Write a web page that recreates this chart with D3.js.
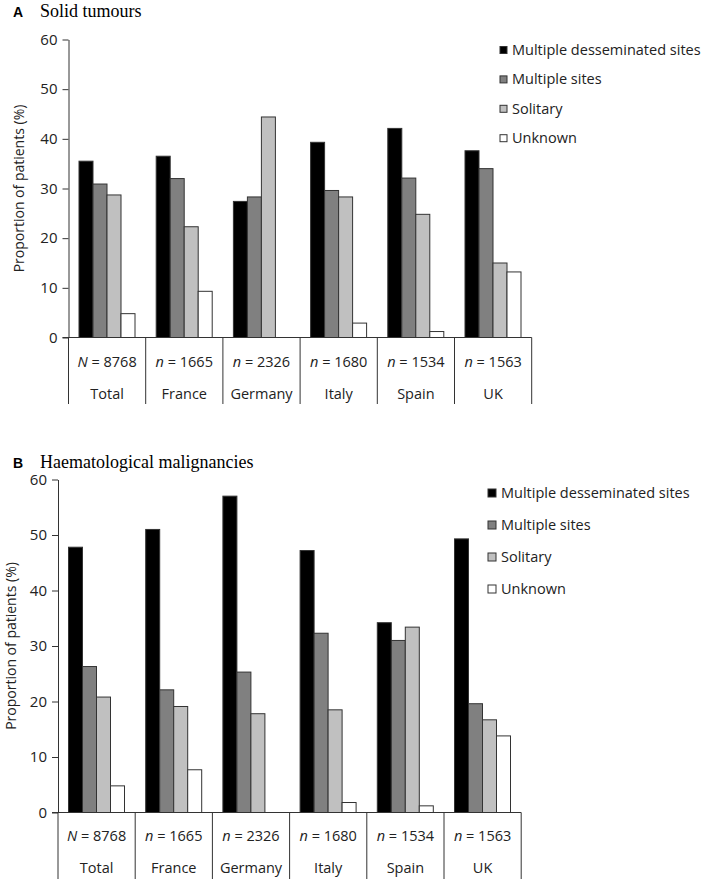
<!DOCTYPE html>
<html><head><meta charset="utf-8">
<script src="https://cdn.jsdelivr.net/npm/d3@7"></script>
<style>body{margin:0;background:#fff}svg{display:block}</style>
</head><body>
<script>
const countries = ["Total","France","Germany","Italy","Spain","UK"];
const sampleSizes = ["N = 8768","n = 1665","n = 2326","n = 1680","n = 1534","n = 1563"];
const seriesNames = ["Multiple desseminated sites","Multiple sites","Solitary","Unknown"];
const seriesColors = ["#000000","#808080","#c0c0c0","#ffffff"];
const yTicks = [0,10,20,30,40,50,60];
// Panel A: Solid tumours
const solidMultDiss = [35.5,36.5,27.4,39.3,42.1,37.6];
const solidMult     = [30.9,32.0,28.3,29.6,32.1,34.0];
const solidSolitary = [28.7,22.3,44.4,28.3,24.8,15.0];
const solidUnknown  = [4.8,9.3,0,2.9,1.2,13.2];
// Panel B: Haematological malignancies
const haemMultDiss = [47.8,51.0,57.0,47.2,34.2,49.3];
const haemMult     = [26.3,22.1,25.3,32.3,31.0,19.6];
const haemSolitary = [20.8,19.1,17.8,18.5,33.4,16.7];
const haemUnknown  = [4.8,7.7,0,1.8,1.2,13.8];

const W = 709, H = 879;
const svg = d3.select("body").append("svg").attr("width",W).attr("height",H);
const FONT = "'Open Sans', sans-serif";

function panel(cfg){
  const g = svg.append("g");
  const series = cfg.values;
  const x = d3.scaleBand().domain(countries).range([cfg.x0, cfg.x0 + 6*77.2]).padding(0);
  const xi = d3.scaleBand().domain(seriesNames).range([10.5, 66.5]).padding(0);
  const y = d3.scaleLinear().domain([0,60]).range([cfg.yBottom, cfg.yTop]);

  g.append("text").attr("x",13).attr("y",cfg.titleY).attr("font-family","'Liberation Sans', Arial, sans-serif")
    .attr("font-weight","bold").attr("font-size",14).text(cfg.letter);
  g.append("text").attr("x",40).attr("y",cfg.titleY).attr("font-family","'Liberation Serif', 'Times New Roman', serif")
    .attr("font-size",18).text(cfg.title);

  countries.forEach((c,ci)=>{
    seriesNames.forEach((s,si)=>{
      const v = series[si][ci];
      if (v <= 0) return;
      g.append("rect")
        .attr("x", x(c) + xi(s)).attr("width", xi.bandwidth())
        .attr("y", y(v)).attr("height", y(0) - y(v))
        .attr("fill", seriesColors[si]).attr("stroke","#333").attr("stroke-width",1);
    });
  });

  const ax = g.append("g").attr("transform",`translate(${cfg.x0},0)`)
    .call(d3.axisLeft(y).tickValues(yTicks).tickSize(6).tickSizeOuter(0).tickPadding(5));
  ax.selectAll("path,line").attr("stroke","#333");
  ax.selectAll("text").attr("font-family",FONT).attr("font-size",15).attr("fill","#222");

  g.append("text").attr("transform",`translate(${cfg.labelX},${(cfg.yTop+cfg.yBottom)/2}) rotate(-90)`)
    .attr("text-anchor","middle").attr("font-family",FONT).attr("font-size",14).attr("fill","#222")
    .text("Proportion of patients (%)");

  const xEnd = cfg.x0 + 6*77.2;
  g.append("line").attr("x1",cfg.x0-6).attr("x2",xEnd).attr("y1",y(0)).attr("y2",y(0)).attr("stroke","#333");
  const borders = countries.map(c=>x(c)).concat([xEnd]);
  borders.forEach(bx=>{
    g.append("line").attr("x1",bx).attr("x2",bx).attr("y1",y(0)).attr("y2",cfg.tableBottom).attr("stroke","#333");
  });
  countries.forEach((c,ci)=>{
    const cx = x(c) + x.bandwidth()/2;
    const parts = sampleSizes[ci].split(" = ");
    const t = g.append("text").attr("x",cx).attr("y",y(0)+cfg.row1).attr("text-anchor","middle")
      .attr("font-family",FONT).attr("font-size",14.5).attr("fill","#222");
    t.append("tspan").attr("font-style","italic").text(parts[0]);
    t.append("tspan").text(" = " + parts[1]);
    g.append("text").attr("x",cx).attr("y",y(0)+cfg.row2).attr("text-anchor","middle")
      .attr("font-family",FONT).attr("font-size",14.5).attr("fill","#222").text(c);
  });

  seriesNames.forEach((s,si)=>{
    const ly = cfg.legY + si*cfg.legStep;
    g.append("rect").attr("x",cfg.legX).attr("y",ly-cfg.sq/2).attr("width",cfg.sq).attr("height",cfg.sq)
      .attr("fill",seriesColors[si]).attr("stroke","#333").attr("stroke-width",1);
    g.append("text").attr("x",cfg.legX+cfg.sq+5).attr("y",ly).attr("dy","0.35em")
      .attr("font-family",FONT).attr("font-size",14.5).attr("fill","#222").text(s);
  });
}

panel({letter:"A", title:"Solid tumours", titleY:17, x0:68.5, yTop:39.5, yBottom:337.5,
  labelX:24, tableBottom:404, row1:29, row2:61,
  values:[solidMultDiss,solidMult,solidSolitary,solidUnknown],
  legX:500, legY:50, legStep:29.4, sq:7});
panel({letter:"B", title:"Haematological malignancies", titleY:468, x0:58, yTop:479.5, yBottom:812.5,
  labelX:16, tableBottom:879, row1:28, row2:60,
  values:[haemMultDiss,haemMult,haemSolitary,haemUnknown],
  legX:488, legY:493, legStep:32, sq:8});
</script>
</body></html>
